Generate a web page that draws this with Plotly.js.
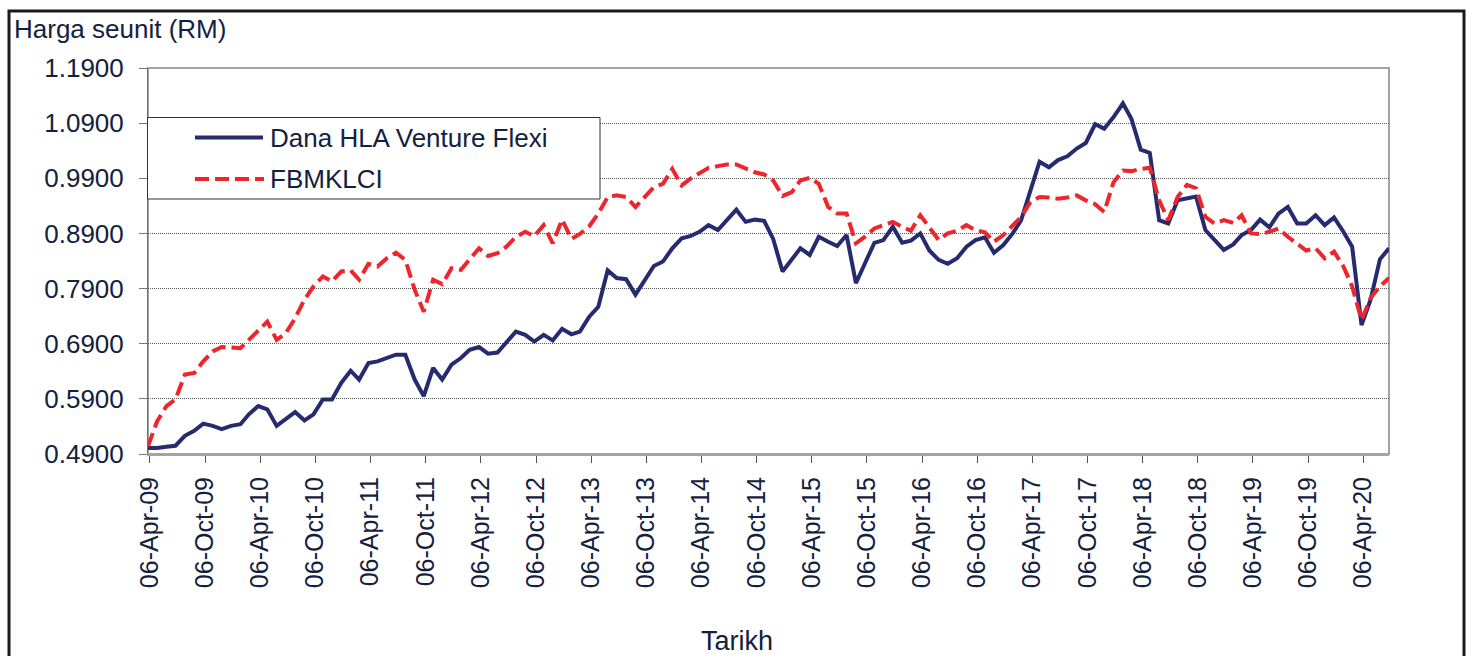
<!DOCTYPE html>
<html>
<head>
<meta charset="utf-8">
<script src="https://cdn.plot.ly/plotly-3.0.1.min.js"></script>
<style>
  html, body { margin: 0; padding: 0; background: #ffffff; }
  #chart { width: 1467px; height: 656px; }
</style>
</head>
<body>
<div id="chart"></div>
<script>
// ---- Data (month-end unit prices, Mar-2009 .. Jun-2020) ----
const seriesNames = ["Dana HLA Venture Flexi", "FBMKLCI"];
const startYear = 2009;
const startMonth = 3; // March (month-end dates)

const fundValues = [
  0.501,0.501,0.503,0.505,0.523,0.532,0.545,0.541,0.535,0.541,0.544,0.562,
  0.577,0.571,0.541,0.553,0.566,0.551,0.562,0.589,0.589,0.619,0.641,0.625,
  0.655,0.658,0.664,0.670,0.670,0.625,0.595,0.646,0.625,0.652,0.664,0.679,
  0.684,0.672,0.674,0.694,0.712,0.706,0.694,0.706,0.696,0.717,0.707,0.712,
  0.739,0.757,0.823,0.809,0.807,0.779,0.806,0.831,0.839,0.863,0.881,0.885,
  0.893,0.905,0.896,0.914,0.933,0.911,0.915,0.913,0.880,0.821,0.842,0.863,
  0.851,0.884,0.875,0.867,0.887,0.800,0.836,0.873,0.878,0.902,0.873,0.877,
  0.890,0.859,0.842,0.835,0.845,0.866,0.878,0.883,0.855,0.869,0.890,0.914,
  0.968,1.020,1.010,1.023,1.030,1.044,1.054,1.088,1.080,1.101,1.126,1.098,
  1.042,1.036,0.914,0.908,0.950,0.953,0.957,0.896,0.878,0.860,0.870,0.887,
  0.896,0.915,0.901,0.926,0.938,0.908,0.908,0.923,0.905,0.919,0.893,0.866,
  0.724,0.770,0.843,0.863
];

const indexValues = [
  0.504,0.549,0.577,0.589,0.634,0.637,0.658,0.676,0.684,0.683,0.682,0.697,
  0.715,0.730,0.697,0.709,0.736,0.770,0.794,0.812,0.803,0.821,0.823,0.806,
  0.835,0.830,0.845,0.855,0.842,0.788,0.748,0.806,0.798,0.827,0.824,0.842,
  0.863,0.849,0.854,0.866,0.884,0.893,0.885,0.905,0.872,0.915,0.880,0.889,
  0.903,0.926,0.956,0.959,0.956,0.938,0.956,0.974,0.980,1.007,0.977,0.989,
  0.999,1.009,1.012,1.015,1.015,1.007,1.001,0.997,0.986,0.958,0.965,0.986,
  0.991,0.980,0.938,0.926,0.926,0.872,0.884,0.899,0.905,0.911,0.902,0.895,
  0.923,0.902,0.878,0.890,0.895,0.905,0.896,0.892,0.875,0.887,0.905,0.920,
  0.947,0.956,0.955,0.953,0.955,0.959,0.950,0.943,0.929,0.983,1.004,1.003,
  1.007,1.009,0.950,0.914,0.956,0.978,0.972,0.920,0.908,0.914,0.909,0.923,
  0.890,0.889,0.893,0.899,0.884,0.871,0.859,0.863,0.845,0.857,0.830,0.794,
  0.733,0.773,0.794,0.809
];

const tickDates = [
  "2009-04-06","2009-10-06","2010-04-06","2010-10-06","2011-04-06","2011-10-06",
  "2012-04-06","2012-10-06","2013-04-06","2013-10-06","2014-04-06","2014-10-06",
  "2015-04-06","2015-10-06","2016-04-06","2016-10-06","2017-04-06","2017-10-06",
  "2018-04-06","2018-10-06","2019-04-06","2019-10-06","2020-04-06"
];
const tickLabels = [
  "06-Apr-09","06-Oct-09","06-Apr-10","06-Oct-10","06-Apr-11","06-Oct-11",
  "06-Apr-12","06-Oct-12","06-Apr-13","06-Oct-13","06-Apr-14","06-Oct-14",
  "06-Apr-15","06-Oct-15","06-Apr-16","06-Oct-16","06-Apr-17","06-Oct-17",
  "06-Apr-18","06-Oct-18","06-Apr-19","06-Oct-19","06-Apr-20"
];
const yTicks = [0.49, 0.59, 0.69, 0.79, 0.89, 0.99, 1.09, 1.19];

// month-end dates
const dates = fundValues.map((_, i) => {
  const d = new Date(Date.UTC(startYear, startMonth + i, 0));
  return d.toISOString().slice(0, 10);
});

// ---- Layout geometry ----
const W = 1467, Hh = 656;
const L = 148, R = 1389, T = 68, B = 454;
const px = x => (x - L) / (R - L);
const py = y => (B - y) / (B - T);

const FONT = 'Arial, "Liberation Sans", Helvetica, sans-serif';
const TXT = '#13213f';
const BLUE = '#262b6f';
const RED = '#ee262c';

const traces = [
  {
    x: dates, y: fundValues, name: seriesNames[0], type: 'scatter', mode: 'lines',
    line: { color: BLUE, width: 4 }, showlegend: false, cliponaxis: true
  },
  {
    x: dates, y: indexValues, name: seriesNames[1], type: 'scatter', mode: 'lines',
    line: { color: RED, width: 4, dash: '14px,6px' }, showlegend: false, cliponaxis: true
  }
];

const shapes = [
  // outer frame
  { type: 'rect', xref: 'paper', yref: 'paper', x0: px(9), x1: px(1464), y0: py(672), y1: py(11),
    line: { color: '#1a1a1a', width: 3 }, fillcolor: 'rgba(0,0,0,0)', layer: 'below' },
  // plot border (gray)
  { type: 'rect', xref: 'paper', yref: 'paper', x0: 0, x1: 1, y0: 0, y1: 1,
    line: { color: '#a3a3a3', width: 2 }, fillcolor: 'rgba(0,0,0,0)', layer: 'below' },
  // legend box
  { type: 'rect', xref: 'paper', yref: 'paper', x0: px(147.5), x1: px(600), y0: py(199), y1: py(117.5),
    line: { color: '#333333', width: 1 }, fillcolor: '#ffffff', layer: 'above' },
  // legend samples
  { type: 'line', xref: 'paper', yref: 'paper', x0: px(195), x1: px(263), y0: py(137.5), y1: py(137.5),
    line: { color: BLUE, width: 4 }, layer: 'above' },
  { type: 'line', xref: 'paper', yref: 'paper', x0: px(195), x1: px(264), y0: py(179), y1: py(179),
    line: { color: RED, width: 4, dash: '14px,6px' }, layer: 'above' }
];

const annotations = [
  { text: 'Harga seunit (RM)', xref: 'paper', yref: 'paper', x: px(12), y: py(29),
    xanchor: 'left', yanchor: 'middle', showarrow: false, font: { family: FONT, size: 26, color: TXT } },
  { text: 'Tarikh', xref: 'paper', yref: 'paper', x: px(736.5), y: py(641),
    xanchor: 'center', yanchor: 'middle', showarrow: false, font: { family: FONT, size: 27, color: TXT } },
  { text: seriesNames[0], xref: 'paper', yref: 'paper', x: px(268), y: py(137.5),
    xanchor: 'left', yanchor: 'middle', showarrow: false, font: { family: FONT, size: 26, color: TXT } },
  { text: seriesNames[1], xref: 'paper', yref: 'paper', x: px(268), y: py(179),
    xanchor: 'left', yanchor: 'middle', showarrow: false, font: { family: FONT, size: 26, color: TXT } }
];

const layout = {
  width: W, height: Hh,
  margin: { l: L, r: W - R, t: T, b: Hh - B, pad: 0 },
  paper_bgcolor: '#ffffff', plot_bgcolor: '#ffffff',
  showlegend: false,
  font: { family: FONT, size: 26, color: TXT },
  xaxis: {
    type: 'date',
    range: ['2009-03-31', '2020-06-30'],
    tickmode: 'array', tickvals: tickDates, ticktext: tickLabels,
    tickangle: -90,
    ticks: 'outside', ticklen: 7, tickwidth: 1, tickcolor: '#555555',
    tickfont: { family: FONT, size: 25, color: TXT },
    showgrid: false, zeroline: false,
    showline: true, linecolor: '#a3a3a3', linewidth: 2,
    ticklabelstandoff: 4
  },
  yaxis: {
    range: [0.49, 1.19],
    tickmode: 'array', tickvals: yTicks, ticktext: yTicks.map(v => v.toFixed(4)),
    ticks: 'outside', ticklen: 8, tickwidth: 1, tickcolor: '#777777',
    tickfont: { family: FONT, size: 26, color: TXT },
    showgrid: true, gridcolor: '#555555', gridwidth: 1, griddash: '1px,1px',
    zeroline: false,
    showline: true, linecolor: '#6e6e6e', linewidth: 1,
    ticklabelstandoff: 10
  },
  shapes: shapes,
  annotations: annotations
};

Plotly.newPlot('chart', traces, layout, { staticPlot: true, displayModeBar: false });
</script>
</body>
</html>
